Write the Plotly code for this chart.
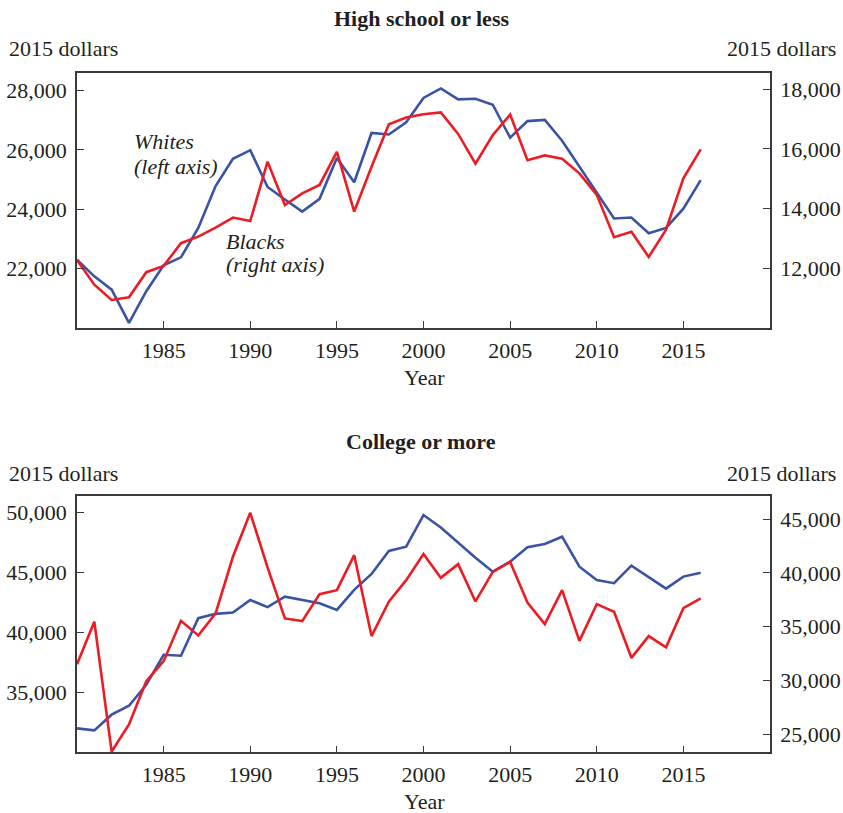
import plotly.graph_objects as go

years = list(range(1980, 2017))

hs_white = [22300, 21740, 21290, 20170, 21240, 22110, 22380, 23370, 24780, 25700,
            25990, 24750, 24330, 23920, 24350, 25730, 24910, 26570, 26520, 26930,
            27750, 28070, 27700, 27720, 27520, 26410, 26970, 27010, 26310, 25450,
            24550, 23690, 23720, 23190, 23370, 24020, 24980]
hs_black = [12280, 11450, 10940, 11030, 11870, 12080, 12840, 13060, 13360, 13700,
            13580, 15570, 14120, 14510, 14790, 15900, 13900, 15400, 16820, 17050,
            17160, 17220, 16500, 15500, 16460, 17150, 15620, 15780, 15670, 15180,
            14460, 13040, 13220, 12380, 13290, 15010, 15980]
col_white = [32000, 31830, 33140, 33890, 35640, 38140, 38060, 41200, 41560, 41670,
             42720, 42120, 43000, 42720, 42450, 41890, 43560, 44890, 46810, 47170,
             49810, 48770, 47480, 46250, 45080, 45920, 47120, 47390, 48000, 45500,
             44390, 44120, 45580, 44620, 43670, 44670, 45000]
col_black = [31520, 35460, 23400, 25920, 29940, 31800, 35550, 34190, 36240, 41500,
             45590, 40510, 35770, 35520, 38030, 38400, 41650, 34130, 37320, 39330,
             41750, 39550, 40820, 37350, 40100, 41030, 37250, 35240, 38400, 33690,
             37100, 36390, 32110, 34130, 33080, 36730, 37630]

x_ticks = [1985, 1990, 1995, 2000, 2005, 2010, 2015]
hs_left_ticks = [22000, 24000, 26000, 28000]
hs_right_ticks = [12000, 14000, 16000, 18000]
col_left_ticks = [35000, 40000, 45000, 50000]
col_right_ticks = [25000, 30000, 35000, 40000, 45000]

BLUE = "#3a53a4"
RED = "#ed1c24"
TXT = "#231f20"
AX = "#3a3a3a"
FONT = "Liberation Serif"
W, H = 843, 813

fig = go.Figure()
fig.add_trace(go.Scatter(x=years, y=hs_white, mode="lines", line=dict(color=BLUE, width=2.6),
                         xaxis="x", yaxis="y"))
fig.add_trace(go.Scatter(x=years, y=hs_black, mode="lines", line=dict(color=RED, width=2.6),
                         xaxis="x", yaxis="y2"))
fig.add_trace(go.Scatter(x=years, y=col_white, mode="lines", line=dict(color=BLUE, width=2.6),
                         xaxis="x2", yaxis="y3"))
fig.add_trace(go.Scatter(x=years, y=col_black, mode="lines", line=dict(color=RED, width=2.6),
                         xaxis="x2", yaxis="y4"))

xd = [77 / W, 770 / W]
top_d = [1 - 328 / H, 1 - 72.7 / H]
bot_d = [1 - 752.3 / H, 1 - 496 / H]

common = dict(showgrid=False, zeroline=False, showline=True, linecolor=AX, linewidth=1.5,
              ticks="inside", ticklen=7, tickcolor=AX, tickwidth=1.3,
              tickfont=dict(family=FONT, size=22, color=TXT))

xcommon = dict(common, range=[1980, 2020], tickvals=x_ticks, mirror=True, ticklabelstandoff=2)

fig.update_layout(
    width=W, height=H,
    margin=dict(l=0, r=0, t=0, b=0),
    paper_bgcolor="white", plot_bgcolor="white",
    showlegend=False,
    xaxis=dict(xcommon, domain=xd, anchor="y"),
    yaxis=dict(common, domain=top_d, anchor="x", range=[20000, 28600],
               tickvals=hs_left_ticks, tickformat=",d", ticklabelstandoff=4),
    yaxis2=dict(common, overlaying="y", side="right", anchor="x", range=[10000, 18550],
                tickvals=hs_right_ticks, tickformat=",d", ticklabelstandoff=4),
    xaxis2=dict(xcommon, domain=xd, anchor="y3"),
    yaxis3=dict(common, domain=bot_d, anchor="x2", range=[30000, 51400],
                tickvals=col_left_ticks, tickformat=",d", ticklabelstandoff=4),
    yaxis4=dict(common, overlaying="y3", side="right", anchor="x2", range=[23330, 47150],
                tickvals=col_right_ticks, tickformat=",d", ticklabelstandoff=4),
)

def ann(text, x, y, xanchor="center", bold=False, italic=False, xref="paper", yref="paper"):
    if bold:
        text = "<b>" + text + "</b>"
    if italic:
        text = "<i>" + text + "</i>"
    fig.add_annotation(text=text, x=x, y=y, xref=xref, yref=yref, xanchor=xanchor,
                       yanchor="middle", showarrow=False,
                       font=dict(family=FONT, size=22, color=TXT))

ann("High school or less", 421 / W, 1 - 18 / H, bold=True)
ann("2015 dollars", 7 / W, 1 - 49 / H, xanchor="left")
ann("2015 dollars", 838 / W, 1 - 49 / H, xanchor="right")
ann("Year", 424 / W, 1 - 378 / H)

ann("College or more", 421 / W, 1 - 441 / H, bold=True)
ann("2015 dollars", 7 / W, 1 - 473 / H, xanchor="left")
ann("2015 dollars", 838 / W, 1 - 473 / H, xanchor="right")
ann("Year", 424 / W, 1 - 801 / H)

ann("Whites", 1983.15, 26280, xanchor="left", italic=True, xref="x", yref="y")
ann("(left axis)", 1983.15, 25440, xanchor="left", italic=True, xref="x", yref="y")
ann("Blacks", 1988.5, 22900, xanchor="left", italic=True, xref="x", yref="y")
ann("(right axis)", 1988.5, 22130, xanchor="left", italic=True, xref="x", yref="y")

fig.write_html("out.html", config={"displayModeBar": False},
               post_script="document.body.style.margin='0';document.body.style.overflow='hidden';")
